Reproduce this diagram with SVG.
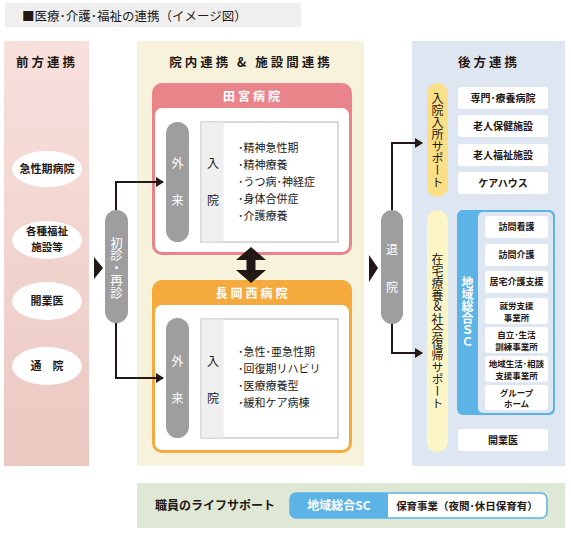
<svg xmlns="http://www.w3.org/2000/svg" width="571" height="533" viewBox="0 0 571 533">
<defs>
<linearGradient id="pinkG" x1="0" y1="0" x2="0" y2="1"><stop offset="0" stop-color="#f8e0dc"/><stop offset="1" stop-color="#ebc8c2"/></linearGradient>
<marker id="ah" markerWidth="8" markerHeight="10" refX="7" refY="5" orient="auto" markerUnits="userSpaceOnUse"><path d="M0,0 L8,5 L0,10 Z" fill="#231815"/></marker>
<style>
text{font-family:"Noto Sans CJK JP","Noto Sans",sans-serif;fill:#231815}
.h{font-size:12.5px;font-weight:bold;text-anchor:middle;letter-spacing:3px}
.hw{font-size:12px;font-weight:bold;text-anchor:middle;letter-spacing:3px;fill:#fff}
.el{font-size:11px;font-weight:bold;text-anchor:middle}
.li{font-size:11px}
.bx{font-size:10px;font-weight:bold;text-anchor:middle}
.bs{font-size:9px;font-weight:bold;text-anchor:middle}
.b2{font-size:8.5px;font-weight:bold;text-anchor:middle}
.vt{font-size:12px;writing-mode:vertical-rl;text-orientation:upright;text-anchor:middle}
.pw{fill:#fff;font-size:12px;text-anchor:middle}
.gp{fill:#9e9e9f}
.wb{fill:#fff}
.ln{fill:none;stroke:#231815;stroke-width:2}
</style>
</defs>
<rect x="5" y="3" width="296" height="24" fill="#efefef"/>
<text x="22" y="21" style="font-size:12.5px">■医療･介護･福祉の連携（イメージ図）</text>

<g id="front">
<rect x="4" y="41" width="85" height="425" fill="url(#pinkG)"/>
<text class="h" x="47" y="67">前方連携</text>
<g id="n-kyusei"><ellipse cx="47" cy="169" rx="35" ry="18" fill="#fff"/><text class="el" x="47" y="173">急性期病院</text></g>
<g id="n-fukushi"><ellipse cx="47" cy="240" rx="35" ry="19" fill="#fff"/><text class="el" x="47" y="235" style="font-size:10.5px">各種福祉<tspan x="47" dy="15.5">施設等</tspan></text></g>
<g id="n-kaigyo"><ellipse cx="47" cy="301" rx="35" ry="19" fill="#fff"/><text class="el" x="47" y="305">開業医</text></g>
<g id="n-tsuin"><ellipse cx="47" cy="366" rx="35" ry="19" fill="#fff"/><text class="el" x="47" y="370">通　院</text></g>
</g>

<g id="middle">
<rect x="137" y="41" width="227" height="425" fill="#f6f2dc"/>
<text class="h" x="251" y="67">院内連携 &amp; 施設間連携</text>
</g>

<g id="n-shoshin"><rect class="gp" x="105" y="210" width="23" height="113" rx="11.5"/><text class="vt" x="116.5" y="268" style="fill:#fff;font-size:12.5px">初診・再診</text></g>

<g id="n-tamiya">
<rect x="152" y="83" width="200" height="172" rx="10" fill="#e9848b"/>
<rect x="155" y="108" width="194" height="144" rx="7" fill="#fff"/>
<text class="hw" x="253" y="101">田宮病院</text>
<rect class="gp" x="166" y="122" width="23" height="120" rx="11.5"/>
<text class="pw" x="177.5" y="168">外</text><text class="pw" x="177.5" y="205">来</text>
<rect x="201" y="122" width="137" height="120" fill="#fff" stroke="#b5b5b5" stroke-width="1"/>
<rect x="201.5" y="122.5" width="22" height="119" fill="#efefef"/>
<text x="213" y="168" style="font-size:12px;text-anchor:middle">入</text><text x="213" y="205" style="font-size:12px;text-anchor:middle">院</text>
<text class="li" x="238" y="152">･精神急性期</text>
<text class="li" x="238" y="169">･精神療養</text>
<text class="li" x="238" y="186">･うつ病･神経症</text>
<text class="li" x="238" y="203">･身体合併症</text>
<text class="li" x="238" y="220">･介護療養</text>
</g>

<g id="n-nagaoka">
<rect x="152" y="280" width="200" height="173" rx="10" fill="#f4aa3c"/>
<rect x="155" y="305" width="194" height="145" rx="7" fill="#fff"/>
<text class="hw" x="253" y="298">長岡西病院</text>
<rect class="gp" x="166" y="318" width="23" height="120" rx="11.5"/>
<text class="pw" x="177.5" y="366">外</text><text class="pw" x="177.5" y="403">来</text>
<rect x="201" y="319" width="137" height="119" fill="#fff" stroke="#b5b5b5" stroke-width="1"/>
<rect x="201.5" y="319.5" width="22" height="118" fill="#efefef"/>
<text x="213" y="366" style="font-size:12px;text-anchor:middle">入</text><text x="213" y="403" style="font-size:12px;text-anchor:middle">院</text>
<text class="li" x="238" y="356">･急性･亜急性期</text>
<text class="li" x="238" y="373">･回復期リハビリ</text>
<text class="li" x="238" y="390">･医療療養型</text>
<text class="li" x="238" y="407">･緩和ケア病棟</text>
</g>

<g id="rear">
<rect x="412" y="41" width="153" height="425" fill="#dde6f1"/>
<text class="h" x="489" y="67">後方連携</text>
</g>

<g id="n-taiin"><rect class="gp" x="381" y="210" width="22" height="114" rx="11"/><text class="pw" x="392" y="254">退</text><text class="pw" x="392" y="292">院</text></g>

<g id="n-nyuin-support"><rect x="427" y="83" width="21" height="114" rx="10.5" fill="#fbdf86"/><text class="vt" x="437.5" y="140">入院入所サポート</text></g>
<g id="n-zaitaku-support"><rect x="427" y="210" width="21" height="242" rx="10.5" fill="#fcf6c6"/><text class="vt" x="437.5" y="331">在宅療養＆社会復帰サポート</text></g>

<g id="n-senmon"><rect class="wb" x="458" y="87" width="90" height="22" rx="3"/><text class="bx" x="503" y="102">専門･療養病院</text></g>
<g id="n-roujin-hoken"><rect class="wb" x="458" y="115" width="90" height="22" rx="3"/><text class="bx" x="503" y="130">老人保健施設</text></g>
<g id="n-roujin-fukushi"><rect class="wb" x="458" y="144" width="90" height="22" rx="3"/><text class="bx" x="503" y="159">老人福祉施設</text></g>
<g id="n-carehouse"><rect class="wb" x="458" y="172" width="90" height="22" rx="3"/><text class="bx" x="503" y="187">ケアハウス</text></g>

<g id="n-sc">
<rect x="457" y="210" width="98" height="205" rx="6" fill="#5bb4e5"/>
<rect x="478" y="212" width="75" height="201" rx="5" fill="#dde6f1"/>
<text class="vt" x="467.5" y="312" style="fill:#fff;font-weight:bold">地域総合ＳＣ</text>
</g>
<g id="n-houmon-kango"><rect class="wb" x="485" y="216" width="63" height="22" rx="3"/><text class="bs" x="516.5" y="230">訪問看護</text></g>
<g id="n-houmon-kaigo"><rect class="wb" x="485" y="244" width="63" height="22" rx="3"/><text class="bs" x="516.5" y="258">訪問介護</text></g>
<g id="n-kyotaku"><rect class="wb" x="485" y="271" width="63" height="22" rx="3"/><text class="bs" x="516.5" y="285">居宅介護支援</text></g>
<g id="n-shuro"><rect class="wb" x="485" y="298" width="63" height="26" rx="3"/><text class="b2" x="516.5" y="308.5">就労支援<tspan x="516.5" dy="12">事業所</tspan></text></g>
<g id="n-jiritsu"><rect class="wb" x="485" y="327" width="63" height="26" rx="3"/><text class="b2" x="516.5" y="337.5">自立･生活<tspan x="516.5" dy="12">訓練事業所</tspan></text></g>
<g id="n-chiiki"><rect class="wb" x="485" y="356" width="63" height="26" rx="3"/><text class="b2" x="516.5" y="366.5">地域生活･相談<tspan x="516.5" dy="12">支援事業所</tspan></text></g>
<g id="n-group"><rect class="wb" x="485" y="385" width="63" height="25" rx="3"/><text class="b2" x="516.5" y="395.5">グループ<tspan x="516.5" dy="11.5">ホーム</tspan></text></g>
<g id="n-kaigyo2"><rect class="wb" x="458" y="429" width="90" height="22" rx="3"/><text class="bx" x="503" y="444">開業医</text></g>

<g id="lifesupport">
<rect x="137" y="483" width="428" height="45" fill="#dfe8d5"/>
<text x="155" y="510" style="font-size:12px;font-weight:bold">職員のライフサポート</text>
<rect x="290" y="493" width="257" height="25" rx="6" fill="#fff" stroke="#5bb4e5" stroke-width="1.5"/>
<path d="M296,493 H388 V518 H296 A6,6 0 0 1 290,512 V499 A6,6 0 0 1 296,493 Z" fill="#5bb4e5"/>
<text x="339" y="510" style="font-size:12px;fill:#fff;text-anchor:middle;font-weight:bold">地域総合SC</text>
<text x="467" y="510" style="font-size:10.5px;text-anchor:middle;font-weight:bold">保育事業（夜間･休日保育有）</text>
</g>

<g id="connectors">
<path d="M94,257 L103,268 L94,279 Z" fill="#231815"/>
<path d="M369,255 L378,268 L369,282 Z" fill="#231815"/>
<polyline class="ln" points="116,210 116,182 163,182" marker-end="url(#ah)"/>
<polyline class="ln" points="116,323 116,378 163,378" marker-end="url(#ah)"/>
<polyline class="ln" points="392,210 392,143 422,143" marker-end="url(#ah)"/>
<polyline class="ln" points="392,324 392,353 422,353" marker-end="url(#ah)"/>
<polygon points="251,247 266,260 255.5,260 255.5,270 266,270 251,283 236,270 246.5,270 246.5,260 236,260" fill="#231815"/>
</g>
</svg>
